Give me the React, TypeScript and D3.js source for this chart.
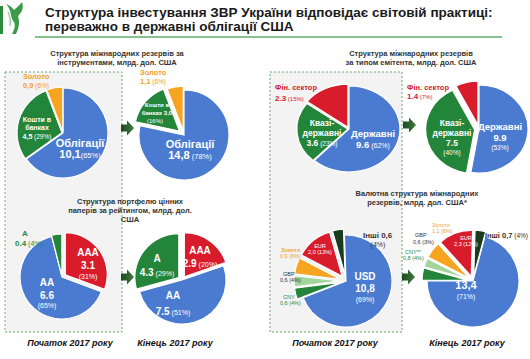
import React from 'react';
import * as d3 from 'd3';

// ---- data (млрд. дол. США, частки у %) ----
const instrNames = ['Облігації', 'Кошти в банках', 'Золото'];
const instrStart = [10.1, 4.5, 0.9];
const instrStartPct = [65, 29, 6];
const instrEnd = [14.8, 3.0, 1.1];
const instrEndPct = [78, 16, 6];

const issuerNames = ['Державні', 'Квазі-державні', 'Фін. сектор'];
const issuerStart = [9.6, 3.6, 2.3];
const issuerStartPct = [62, 23, 15];
const issuerEnd = [9.9, 7.5, 1.4];
const issuerEndPct = [53, 40, 7];

const ratingNames = ['AAA', 'AA', 'A'];
const ratingStart = [3.1, 6.6, 0.4];
const ratingStartPct = [31, 65, 4];
const ratingEnd = [2.9, 7.5, 4.3];
const ratingEndPct = [20, 51, 29];

const currencyNames = ['USD', 'CNY', 'GBP', 'Золото', 'EUR', 'Інші'];
const currencyStart = [10.8, 0.6, 0.6, 0.9, 2.0, 0.6];
const currencyStartPct = [69, 4, 4, 6, 13, 4];
const currencyEnd = [13.4, 0.8, 0.6, 1.1, 2.3, 0.7];
const currencyEndPct = [71, 4, 3, 6, 12, 4];

const titleLines = [
  'Структура інвестування ЗВР України відповідає світовій практиці:',
  'переважно в державні облігації США',
];
const subtitles = [
  ['Структура міжнародних резервів за', 'інструментами, млрд. дол. США'],
  ['Структура міжнародних резервів', 'за типом емітента, млрд. дол. США'],
  ['Структура портфелю цінних', 'паперів за рейтингом, млрд. дол.', 'США'],
  ['Валютна структура міжнародних', 'резервів, млрд. дол. США*'],
];
const periodLabels = ['Початок 2017 року', 'Кінець 2017 року'];

// ---- styles ----
const FONT = '"Liberation Sans", Arial, sans-serif';
const BLUE = '#4a7bd0';
const GREEN = '#23853a';
const ORANGE = '#f7a520';
const RED = '#d81c2c';
const LGREEN = '#a3d49c';
const DGREEN = '#1b3b1e';
const T_ORANGE = '#f2a229';
const T_RED = '#d3202f';
const T_GREEN = '#2b8a3e';
const T_DARK = '#333';

const val = (v: number, sep: string) => v.toFixed(1).replace('.', sep);
const pct = (p: number) => `(${p}%)`;
const brk = (n: string) => {
  const i = n.indexOf('-');
  if (i >= 0) return [n.slice(0, i + 1), n.slice(i + 1)];
  const j = n.lastIndexOf(' ');
  return [n.slice(0, j), n.slice(j + 1)];
};

type Tok = [string, number, boolean?];
type Line = { x: number; y: number; t: Tok[] };
type Label = { fill: string; anchor: string; lines: Line[] };
const L = (x: number, y: number, ...t: Tok[]): Line => ({ x, y, t });
const lbl = (fill: string, anchor: string, ...lines: Line[]): Label => ({ fill, anchor, lines });

type PieSpec = {
  values: number[];
  colors: string[];
  cx: number;
  cy: number;
  r: number;
  sx: number;
  rot: number;
  explode: number[];
  labels: Label[];
};

const deg = Math.PI / 180;

const pies: PieSpec[] = [
  {
    values: instrStart, colors: [BLUE, GREEN, ORANGE], cx: 63, cy: 133, r: 45, sx: 1, rot: 0, explode: [0, 1, 1],
    labels: [
      lbl(T_ORANGE, 'start', L(23, 79, [instrNames[2], 7.5, true]),
        L(23, 88, [val(instrStart[2], ','), 7.5, true], [' ' + pct(instrStartPct[2]), 6.5])),
      lbl('#fff', 'middle', L(37, 122, [brk(instrNames[1])[0], 7, true]), L(37, 130, [brk(instrNames[1])[1], 7, true]),
        L(37, 139, [val(instrStart[1], ','), 7, true], [' ' + pct(instrStartPct[1]), 6.5])),
      lbl('#fff', 'middle', L(80, 147, [instrNames[0], 11, true]),
        L(80, 158, [val(instrStart[0], ','), 11, true], [pct(instrStartPct[0]), 7.5])),
    ],
  },
  {
    values: instrEnd, colors: [BLUE, GREEN, ORANGE], cx: 184, cy: 135, r: 45, sx: 1, rot: 0, explode: [0, 6, 4],
    labels: [
      lbl(T_ORANGE, 'start', L(140, 75, [instrNames[2], 7.5, true]),
        L(140, 84, [val(instrEnd[2], ','), 7.5, true], [' ' + pct(instrEndPct[2]), 6.5])),
      lbl('#fff', 'middle', L(157, 107, [brk(instrNames[1])[0], 6, true]),
        L(157, 115, [brk(instrNames[1])[1] + ' ' + val(instrEnd[1], ','), 6, true]),
        L(155, 123, [pct(instrEndPct[1]), 6])),
      lbl('#fff', 'middle', L(190, 148, [instrNames[0], 11, true]),
        L(190, 159, [val(instrEnd[0], ','), 11, true], [' ' + pct(instrEndPct[0]), 7.5])),
    ],
  },
  {
    values: issuerStart, colors: [BLUE, GREEN, RED], cx: 349, cy: 129, r: 43, sx: 51 / 43, rot: 0, explode: [0, 1, 2],
    labels: [
      lbl(T_RED, 'start', L(275, 90, [issuerNames[2], 7.5, true]),
        L(275, 101, [val(issuerStart[2], '.'), 8, true], [' ' + pct(issuerStartPct[2]), 6])),
      lbl('#fff', 'middle', L(322, 126, [brk(issuerNames[1])[0], 8.5, true]), L(322, 136, [brk(issuerNames[1])[1], 8.5, true]),
        L(322, 146, [val(issuerStart[1], '.'), 8.5, true], [' ' + pct(issuerStartPct[1]), 6.5])),
      lbl('#fff', 'middle', L(373, 137, [issuerNames[0], 9.5, true]),
        L(373, 148, [val(issuerStart[0], '.'), 9.5, true], [' ' + pct(issuerStartPct[0]), 7])),
    ],
  },
  {
    values: issuerEnd, colors: [BLUE, GREEN, RED], cx: 479, cy: 129, r: 44, sx: 49 / 44, rot: 0, explode: [0, 4, 4],
    labels: [
      lbl(T_RED, 'start', L(407, 90, [issuerNames[2], 7.5, true]),
        L(407, 99, [val(issuerEnd[2], '.'), 8, true], [' ' + pct(issuerEndPct[2]), 6])),
      lbl('#fff', 'middle', L(452, 126, [brk(issuerNames[1])[0], 8.5, true]), L(452, 136, [brk(issuerNames[1])[1], 8.5, true]),
        L(452, 146, [val(issuerEnd[1], '.'), 8.5, true]), L(452, 155, [pct(issuerEndPct[1]), 6.5])),
      lbl('#fff', 'middle', L(500, 130, [issuerNames[0], 9.5, true]),
        L(500, 141, [val(issuerEnd[0], '.'), 9.5, true]), L(500, 150, [pct(issuerEndPct[0]), 6.5])),
    ],
  },
  {
    values: ratingStart, colors: [RED, BLUE, GREEN], cx: 62, cy: 277, r: 42, sx: 1, rot: 0, explode: [4, 0, 1],
    labels: [
      lbl(T_GREEN, 'start', L(22, 236, [ratingNames[2], 8, true]),
        L(15, 246, [val(ratingStart[2], '.'), 8, true], [' ' + pct(ratingStartPct[2]), 7])),
      lbl('#fff', 'middle', L(88, 256, [ratingNames[0], 10, true]), L(88, 269, [val(ratingStart[0], '.'), 10, true]),
        L(88, 279, [pct(ratingStartPct[0]), 7])),
      lbl('#fff', 'middle', L(47, 286, [ratingNames[1], 10, true]), L(47, 299, [val(ratingStart[1], '.'), 10, true]),
        L(47, 308, [pct(ratingStartPct[1]), 7])),
    ],
  },
  {
    values: ratingEnd, colors: [RED, BLUE, GREEN], cx: 182, cy: 280, r: 44, sx: 1, rot: 0, explode: [4, 0, 4],
    labels: [
      lbl('#fff', 'middle', L(200, 254, [ratingNames[0], 10, true]),
        L(200, 267, [val(ratingEnd[0], '.'), 10, true], [' ' + pct(ratingEndPct[0]), 7])),
      lbl('#fff', 'middle', L(157, 262, [ratingNames[2], 10, true]),
        L(157, 276, [val(ratingEnd[2], '.'), 10, true], [' ' + pct(ratingEndPct[2]), 7])),
      lbl('#fff', 'middle', L(173, 299, [ratingNames[1], 10, true]),
        L(173, 315, [val(ratingEnd[1], '.'), 10, true], [' ' + pct(ratingEndPct[1]), 7])),
    ],
  },
  {
    values: currencyStart, colors: [BLUE, GREEN, LGREEN, ORANGE, RED, DGREEN], cx: 346, cy: 281, r: 46, sx: 1, rot: -2 * deg,
    explode: [0, 6, 6, 6, 6, 6],
    labels: [
      lbl(T_DARK, 'start', L(363, 238, [currencyNames[5] + ' ' + val(currencyStart[5], ','), 8, true])),
      lbl(T_DARK, 'middle', L(378, 247, [pct(currencyStartPct[5]), 7])),
      lbl('#fff', 'middle', L(320, 248, [currencyNames[4], 5.5]), L(320, 254, [val(currencyStart[4], ',') + ' ' + pct(currencyStartPct[4]), 5.5])),
      lbl(T_ORANGE, 'start', L(281, 252, [currencyNames[3], 5.5, true]), L(280, 258, [val(currencyStart[3], ',') + ' ' + pct(currencyStartPct[3]), 5.5])),
      lbl(T_DARK, 'start', L(283, 276, [currencyNames[2], 5.5]), L(280, 282, [val(currencyStart[2], ',') + ' ' + pct(currencyStartPct[2]), 5.5])),
      lbl(T_GREEN, 'start', L(283, 299, [currencyNames[1], 5.5]), L(280, 305, [val(currencyStart[1], ',') + ' ' + pct(currencyStartPct[1]), 5.5])),
      lbl('#fff', 'middle', L(365, 280, [currencyNames[0], 10, true]), L(365, 292, [val(currencyStart[0], ','), 10, true]),
        L(365, 302, [pct(currencyStartPct[0]), 7])),
    ],
  },
  {
    values: currencyEnd, colors: [BLUE, GREEN, LGREEN, ORANGE, RED, DGREEN], cx: 473, cy: 281, r: 46, sx: 1, rot: 15 * deg,
    explode: [0, 5, 5, 5, 5, 5],
    labels: [
      lbl(T_DARK, 'start', L(485, 238, [currencyNames[5] + ' ' + val(currencyEnd[5], ','), 7.5, true], [' ' + pct(currencyEndPct[5]), 6.5])),
      lbl('#fff', 'middle', L(466, 240, [currencyNames[4], 5.5]), L(466, 246, [val(currencyEnd[4], ',') + ' ' + pct(currencyEndPct[4]), 5.5])),
      lbl(T_ORANGE, 'start', L(432, 227, [currencyNames[3], 5.5]), L(432, 233, [val(currencyEnd[3], ',') + ' ' + pct(currencyEndPct[3]), 5.5])),
      lbl(T_DARK, 'start', L(415, 237, [currencyNames[2], 5.5]), L(413, 244, [val(currencyEnd[2], ',') + ' ' + pct(currencyEndPct[2]), 5.5])),
      lbl(T_GREEN, 'start', L(405, 254, [currencyNames[1] + '**', 5.5]), L(403, 260, [val(currencyEnd[1], ',') + ' ' + pct(currencyEndPct[1]), 5.5])),
      lbl('#fff', 'middle', L(466, 289, [val(currencyEnd[0], ','), 11, true]), L(466, 299, [pct(currencyEndPct[0]), 7])),
    ],
  },
];

const boxes = [
  { x: 5, y: 72, w: 117, h: 260 },
  { x: 270, y: 72, w: 132, h: 260 },
];
const arrows = [
  [127, 128],
  [409, 125],
  [127, 277],
  [408, 277],
];
const subtitlePos = [
  [117, 56],
  [411, 56],
  [130, 204],
  [417, 196],
];
const periodPos = [
  [70, 346],
  [175, 346],
  [335, 346],
  [467, 346],
];

const Pie = ({ s }: { s: PieSpec }) => {
  const arcs = d3
    .pie<number>()
    .sort(null)
    .value((d) => d)
    .startAngle(s.rot)
    .endAngle(s.rot + 2 * Math.PI)(s.values);
  const arc = d3.arc<d3.PieArcDatum<number>>().innerRadius(0).outerRadius(s.r);
  return (
    <g transform={`translate(${s.cx},${s.cy}) scale(${s.sx},1)`}>
      {arcs.map((a, i) => {
        const m = (a.startAngle + a.endAngle) / 2;
        const e = s.explode[i];
        return (
          <path
            key={i}
            d={arc(a) || ''}
            fill={s.colors[i]}
            stroke="#fff"
            strokeWidth={1.2}
            vectorEffect="non-scaling-stroke"
            transform={`translate(${Math.sin(m) * e},${-Math.cos(m) * e})`}
          />
        );
      })}
    </g>
  );
};

const Labels = ({ labels }: { labels: Label[] }) => (
  <g fontFamily={FONT}>
    {labels.map((l, i) =>
      l.lines.map((ln, j) => (
        <text key={`${i}-${j}`} x={ln.x} y={ln.y} fill={l.fill} textAnchor={l.anchor}>
          {ln.t.map((t, k) => (
            <tspan key={k} fontSize={t[1]} fontWeight={t[2] ? 'bold' : 'normal'}>
              {t[0]}
            </tspan>
          ))}
        </text>
      ))
    )}
  </g>
);

const Arrow = ({ x, y }: { x: number; y: number }) => (
  <path
    d={`M${x - 6},${y - 3.5} L${x},${y - 3.5} L${x},${y - 7.5} L${x + 7},${y} L${x},${y + 7.5} L${x},${y + 3.5} L${x - 6},${y + 3.5} Z`}
    fill="url(#arrowGrad)"
  />
);

export default function App() {
  return (
    <>
      <style>{'body{margin:0}'}</style>
      <svg width={530} height={359} style={{ display: 'block', background: '#fff' }}>
        <defs>
          <linearGradient id="arrowGrad" x1="0" x2="1" y1="0" y2="0">
            <stop offset="0" stopColor="#1d4a22" />
            <stop offset="1" stopColor="#3f7a3f" />
          </linearGradient>
        </defs>

        {/* logo */}
        <g>
          <rect x={0} y={6} width={3} height={28} fill="#2e8b3e" />
          <path d="M6,4 C12,10 10,18 14,22 C16,26 14,30 12,34 L16,34 C19,28 20,22 18,16 C22,12 24,8 22,2 C19,6 16,8 14,10 C12,7 9,5 6,4 Z" fill="#3c9a4a" />
          <path d="M8,12 C10,16 11,20 10,26" stroke="#9ccf9f" strokeWidth={1.5} fill="none" />
        </g>

        {/* title */}
        {titleLines.map((t, i) => (
          <text key={i} x={45} y={17 + i * 14} fontFamily={FONT} fontWeight="bold" fontSize={13.5} fill="#1a1a1a">
            {t}
          </text>
        ))}
        <line x1={35} x2={502} y1={37} y2={37} stroke="#5cae6a" strokeWidth={1.5} />

        {/* dashed boxes */}
        {boxes.map((b, i) => (
          <rect key={i} x={b.x} y={b.y} width={b.w} height={b.h} fill="#f3f3f3" stroke="#6aaa6f" strokeWidth={1} strokeDasharray="2,2" />
        ))}

        {/* subtitles */}
        {subtitles.map((lines, i) =>
          lines.map((t, j) => (
            <text key={`${i}-${j}`} x={subtitlePos[i][0]} y={subtitlePos[i][1] + j * 9} textAnchor="middle" fontFamily={FONT}
              fontWeight="bold" fontSize={7.5} fill="#333">
              {t}
            </text>
          ))
        )}

        {arrows.map(([x, y], i) => (
          <Arrow key={i} x={x} y={y} />
        ))}

        {pies.map((p, i) => (
          <Pie key={i} s={p} />
        ))}
        {pies.map((p, i) => (
          <Labels key={i} labels={p.labels} />
        ))}

        {periodPos.map(([x, y], i) => (
          <text key={i} x={x} y={y} textAnchor="middle" fontFamily={FONT} fontWeight="bold" fontStyle="italic" fontSize={9} fill="#111">
            {periodLabels[i % 2]}
          </text>
        ))}
      </svg>
    </>
  );
}
